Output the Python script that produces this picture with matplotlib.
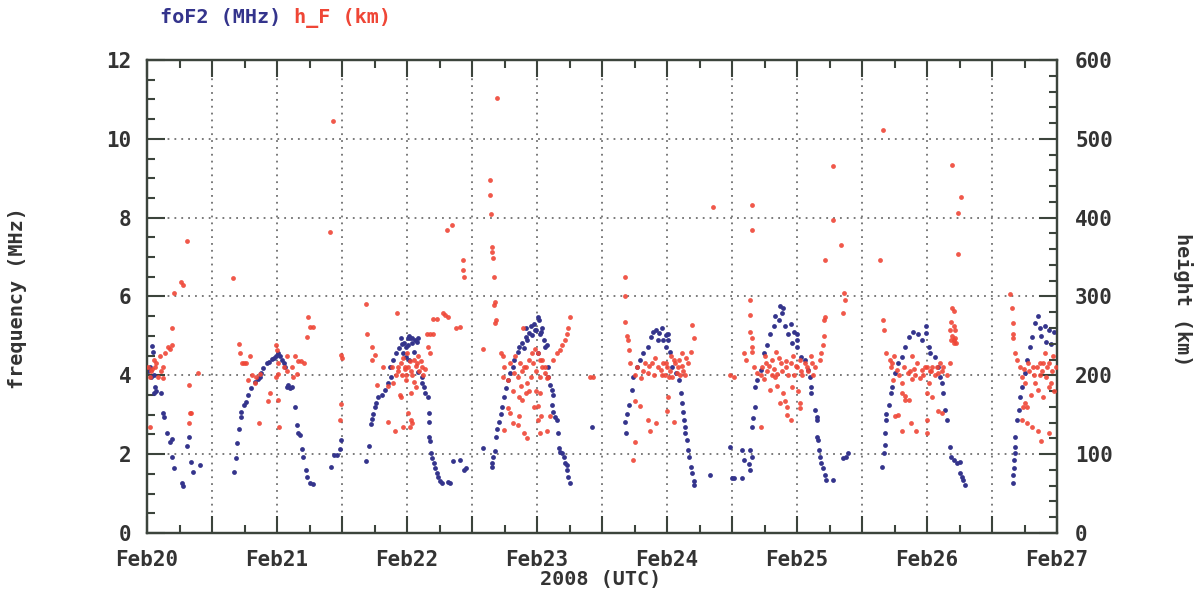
import numpy as np
import matplotlib
matplotlib.use("Agg")
import matplotlib.pyplot as plt
from matplotlib.ticker import MultipleLocator, FuncFormatter

# hours since 2008-02-20 00:00 UTC, foF2 in MHz
fof2_obs = [
    (0.2, 4.10), (0.5, 4.20), (0.8, 3.95), (1.0, 4.75), (1.1, 4.60), (1.3, 4.00), (1.3, 3.54), (1.5, 3.71),
    (1.7, 3.60), (2.5, 3.54), (3.0, 3.05), (3.2, 2.95), (3.6, 2.53), (4.25, 2.30), (4.55, 2.38), (4.7, 1.92),
    (4.9, 1.64), (6.4, 1.28), (6.7, 1.18), (7.3, 2.21), (7.8, 2.44), (8.1, 1.81), (8.4, 1.56), (9.8, 1.72),
    (16.1, 1.56), (16.5, 1.90), (16.6, 2.29), (17.0, 2.63), (17.3, 2.95), (17.4, 3.07), (17.9, 3.25),
    (18.3, 3.33), (18.7, 3.50), (19.2, 3.67), (19.9, 3.84), (20.4, 3.90), (20.9, 3.97), (21.0, 4.05),
    (21.5, 4.18), (22.1, 4.30), (22.5, 4.35), (23.0, 4.42), (23.5, 4.45), (23.9, 4.50),
    # Feb21
    (24.2, 4.56), (24.5, 4.50), (24.9, 4.38), (25.2, 4.30), (25.5, 4.20), (25.8, 3.70), (26.1, 3.75),
    (26.4, 3.67), (26.7, 3.70), (27.3, 3.20), (27.6, 2.74), (27.9, 2.53), (28.2, 2.49), (28.6, 2.12),
    (28.8, 1.93), (29.3, 1.60), (29.6, 1.43), (30.0, 1.26), (30.7, 1.25), (34.0, 1.68), (34.6, 1.98),
    (35.0, 1.98), (35.6, 2.12), (35.9, 2.36),
    (40.5, 1.83), (40.9, 2.21), (41.4, 2.77), (41.5, 2.88), (41.8, 3.03), (42.1, 3.19), (42.2, 3.31),
    (42.7, 3.46), (43.3, 3.50), (43.9, 3.63), (44.5, 3.80), (44.8, 4.22), (45.1, 3.97), (45.4, 4.39),
    (46.0, 4.56), (46.6, 4.69), (46.9, 4.94), (47.0, 4.80), (47.2, 4.56), (47.5, 4.81), (47.8, 4.47),
    (48.1, 4.77),
    # Feb22
    (48.2, 4.94), (48.4, 5.00), (48.6, 4.94), (49.0, 4.94), (49.5, 4.89), (49.8, 4.85), (50.1, 4.94),
    (47.9, 4.73), (48.9, 4.81), (49.2, 4.60), (48.3, 4.39), (50.1, 4.09), (50.7, 3.97), (50.7, 3.80),
    (51.1, 3.71), (51.3, 3.54), (51.8, 3.46), (52.0, 3.05), (52.0, 2.82), (52.1, 2.44), (52.2, 2.34),
    (52.4, 2.02), (52.6, 1.90), (52.9, 1.77), (53.2, 1.65), (53.5, 1.52), (53.8, 1.43), (54.1, 1.31),
    (54.4, 1.27), (55.6, 1.30), (55.9, 1.27), (56.5, 1.83), (57.7, 1.85), (58.6, 1.60), (58.9, 1.64),
    (62.1, 2.15), (63.6, 1.68), (63.7, 1.77), (63.9, 1.92), (64.2, 2.09), (64.5, 2.43), (64.7, 2.64),
    (64.9, 2.82), (65.3, 3.03), (65.6, 3.20), (65.9, 3.46), (66.3, 3.67), (66.6, 3.88), (67.1, 4.05),
    (67.5, 4.22), (67.8, 4.39), (68.4, 4.60), (68.7, 4.73), (69.3, 4.81), (69.6, 4.70), (69.9, 4.98),
    (70.0, 5.20), (70.2, 4.90), (70.5, 5.07), (70.8, 5.25), (71.1, 5.03), (71.4, 5.30), (71.7, 5.15),
    # Feb23
    (72.2, 5.49), (72.3, 5.40), (71.9, 5.15), (72.5, 5.06), (72.8, 5.10), (73.0, 5.20), (73.2, 4.89),
    (73.5, 4.73), (73.8, 4.77), (72.2, 4.56), (74.1, 4.22), (74.1, 3.97), (74.4, 3.75), (74.7, 3.63),
    (75.0, 3.50), (74.7, 3.25), (75.0, 3.08), (75.3, 2.95), (75.6, 2.86), (75.8, 2.53), (76.1, 2.15),
    (76.3, 2.06), (76.6, 2.02), (76.9, 1.92), (77.2, 1.77), (77.5, 1.72), (77.5, 1.60), (77.8, 1.43),
    (78.1, 1.26), (82.1, 2.68),
    (88.3, 2.82), (88.4, 2.53), (88.6, 3.03), (88.9, 3.25), (89.5, 3.63), (89.8, 3.97), (90.4, 4.22),
    (91.0, 4.39), (91.6, 4.56), (92.5, 4.73), (93.1, 4.98), (93.5, 5.10), (94.0, 5.15), (94.3, 4.90),
    (94.6, 5.07), (95.0, 5.20), (95.3, 4.89), (95.9, 5.02),
    # Feb24
    (96.2, 5.06), (96.2, 4.89), (95.9, 4.73), (96.5, 4.60), (97.0, 4.22), (97.6, 4.05), (98.2, 3.88),
    (98.5, 3.54), (98.8, 3.29), (99.0, 3.08), (99.1, 2.86), (99.4, 2.70), (99.4, 2.53), (99.7, 2.36),
    (99.9, 2.11), (100.1, 1.94), (100.4, 1.68), (100.7, 1.52), (101.0, 1.31), (101.0, 1.22), (104.0, 1.47),
    (107.7, 2.19), (108.0, 1.39), (108.3, 1.39), (109.9, 2.11), (110.2, 1.86), (109.9, 1.39), (111.1, 1.76),
    (111.4, 1.60), (111.4, 2.11), (111.7, 1.94),
    (111.7, 2.70), (111.9, 2.91), (112.2, 3.20), (112.3, 3.71), (112.7, 3.88), (113.3, 4.14), (113.9, 4.56),
    (114.5, 4.77), (115.1, 5.06), (115.7, 5.24), (116.0, 5.50), (116.6, 5.41), (116.9, 5.75), (117.2, 5.58),
    (117.5, 5.70), (117.8, 5.24), (118.4, 5.06), (118.8, 5.30), (119.0, 4.81), (119.5, 5.10),
    # Feb25
    (120.0, 5.06), (120.0, 4.89), (120.0, 4.73), (120.8, 4.47), (121.4, 4.39), (122.0, 4.14), (122.4, 3.97),
    (122.6, 3.71), (122.6, 3.54), (123.3, 3.12), (123.6, 2.95), (123.6, 2.86), (123.6, 2.44), (123.9, 2.36),
    (124.0, 2.11), (124.2, 1.94), (124.5, 1.77), (124.8, 1.65), (125.1, 1.48), (125.4, 1.35), (126.7, 1.35),
    (128.5, 1.90), (129.0, 1.94), (129.5, 2.02),
    (135.7, 1.67), (136.1, 2.02), (136.2, 2.24), (136.2, 2.53), (136.5, 2.86), (136.5, 3.03), (136.9, 3.25),
    (137.3, 3.54), (137.6, 3.71), (138.1, 4.05), (138.7, 4.31), (139.3, 4.47), (139.9, 4.73), (140.6, 4.98),
    (141.5, 5.11), (142.4, 5.06), (143.0, 4.89),
    # Feb26
    (143.9, 5.24), (143.9, 5.07), (144.3, 4.73), (144.5, 4.56), (145.5, 4.47), (146.1, 4.22), (146.4, 3.97),
    (146.7, 3.80), (147.0, 3.54), (147.3, 3.12), (147.6, 2.86), (148.2, 2.19), (148.5, 1.94), (149.0, 1.85),
    (149.5, 1.77), (150.1, 1.81), (150.1, 1.52), (150.4, 1.43), (150.7, 1.35), (151.0, 1.22),
    (159.8, 1.26), (159.9, 1.47), (160.1, 1.64), (160.1, 1.85), (160.2, 2.02), (160.2, 2.19), (160.3, 2.44),
    (160.6, 2.86), (160.9, 3.12), (161.2, 3.46), (161.5, 3.71), (162.1, 4.05), (162.4, 4.39), (163.0, 4.73),
    (163.3, 4.98), (163.9, 5.33), (164.5, 5.50), (164.8, 5.20), (165.7, 5.25), (166.6, 5.15), (167.5, 5.10),
    (165.0, 5.00), (165.9, 4.85), (166.8, 4.80),
]

# hours since 2008-02-20 00:00 UTC, h_F in km
hf_obs = [
    (0.2, 211), (0.5, 198), (0.55, 135), (0.8, 205), (1.0, 208), (1.2, 220), (1.4, 211), (1.7, 215),
    (2.0, 198), (2.4, 224), (2.6, 205), (3.0, 196), (3.0, 211), (3.3, 228), (3.9, 236), (4.25, 234),
    (4.55, 238), (4.7, 260), (4.95, 304), (6.3, 319), (6.6, 315), (7.3, 370), (7.8, 188), (7.8, 139),
    (7.9, 152), (8.2, 152), (9.5, 203),
    (15.9, 324), (16.9, 240), (17.2, 228), (17.5, 216), (17.9, 216), (18.3, 216), (18.7, 194), (19.0, 224),
    (19.3, 201), (19.9, 190), (20.2, 198), (20.6, 140), (20.9, 202), (22.4, 167), (22.7, 177), (23.9, 198),
    (23.9, 238),
    # Feb21
    (24.0, 232), (24.1, 216), (24.2, 169), (24.3, 134), (24.2, 202), (25.2, 211), (25.8, 205), (25.9, 224),
    (26.7, 211), (27.0, 198), (27.4, 224), (27.6, 202), (27.9, 218), (28.4, 218), (28.9, 216), (29.5, 249),
    (29.8, 274), (30.1, 261), (30.7, 261), (33.8, 382), (34.4, 522), (35.6, 143), (35.9, 164), (35.9, 226),
    (36.0, 222),
    (40.4, 291), (40.6, 253), (41.5, 236), (41.5, 219), (42.0, 226), (42.4, 188), (43.5, 211), (44.5, 186),
    (44.5, 141), (45.2, 211), (45.4, 190), (45.7, 129), (46.2, 279), (46.0, 200), (46.3, 205), (46.4, 211),
    (46.7, 175), (46.8, 215), (46.9, 172), (47.2, 134), (47.0, 200), (47.3, 222), (47.6, 211), (47.7, 208),
    (47.8, 200),
    # Feb22
    (48.0, 228), (48.2, 210), (48.5, 218), (48.8, 205), (49.0, 200), (49.3, 220), (49.3, 192), (49.6, 212),
    (49.9, 215), (50.0, 225), (50.3, 205), (50.5, 218), (50.8, 211), (51.0, 200), (51.3, 208), (47.9, 194),
    (48.8, 177), (49.6, 185), (48.2, 152), (48.8, 143), (49.0, 139), (48.5, 135), (51.6, 253), (52.2, 253),
    (52.8, 253), (51.9, 236), (52.2, 228), (52.8, 272), (53.5, 272), (54.6, 279), (55.0, 277), (55.5, 274),
    (55.4, 384), (56.3, 391), (57.0, 260), (57.8, 261), (58.3, 346), (58.4, 333), (58.6, 325),
    (62.1, 234), (63.4, 448), (63.4, 429), (63.5, 404), (63.7, 363), (63.7, 357), (63.9, 349), (64.0, 325),
    (64.2, 293), (64.1, 289), (64.3, 266), (64.5, 270), (64.6, 552), (65.3, 228), (65.8, 224), (65.9, 211),
    (65.7, 198), (66.6, 194), (66.6, 158), (67.0, 215), (67.1, 152), (67.5, 139), (67.6, 180), (65.9, 131),
    (67.8, 203), (68.0, 225), (68.4, 198), (68.4, 137), (68.7, 173), (68.7, 148), (68.9, 215), (69.0, 186),
    (69.2, 205), (69.3, 169), (69.5, 260), (69.6, 211), (69.6, 127), (69.9, 177), (70.0, 210), (70.2, 190),
    (70.2, 120), (70.5, 219), (70.6, 180), (70.8, 198), (71.1, 228), (71.3, 215), (71.4, 160), (71.7, 234),
    (71.8, 205),
    # Feb23
    (72.2, 228), (72.6, 220), (72.9, 220), (73.0, 211), (73.4, 203), (73.5, 210), (72.5, 198), (73.8, 196),
    (74.1, 198), (71.9, 180), (72.5, 177), (72.2, 161), (72.8, 148), (72.2, 143), (72.5, 127), (73.8, 129),
    (74.4, 148), (75.0, 220), (75.6, 228), (76.3, 232), (76.6, 238), (77.2, 245), (77.5, 252), (77.8, 260),
    (78.1, 274), (81.7, 198), (82.3, 198),
    (88.3, 325), (88.3, 300), (88.3, 268), (88.6, 250), (88.8, 245), (88.9, 232), (89.2, 216), (89.8, 93),
    (90.0, 116), (90.0, 167), (90.0, 200), (90.5, 210), (91.0, 161), (91.2, 196), (91.5, 205), (92.0, 215),
    (92.4, 203), (92.5, 143), (92.6, 212), (92.8, 129), (93.2, 215), (93.6, 200), (93.8, 222), (94.0, 139),
    (94.4, 210), (94.8, 207), (95.0, 200), (95.2, 215), (95.6, 200), (95.8, 215),
    # Feb24
    (96.0, 211), (96.5, 205), (96.8, 225), (97.2, 141), (97.3, 220), (97.5, 215), (98.0, 210), (98.2, 220),
    (98.4, 200), (98.8, 228), (98.8, 212), (99.3, 200), (99.5, 222), (99.8, 215), (96.2, 173), (96.0, 155),
    (96.4, 198), (97.0, 198), (97.8, 203), (99.0, 205), (100.4, 230), (100.7, 264), (101.0, 247),
    (104.4, 414), (107.7, 201), (108.3, 198),
    (110.2, 228), (110.5, 220), (111.6, 416), (111.6, 384), (111.4, 296), (111.4, 277), (111.4, 255),
    (111.7, 247), (111.6, 236), (111.6, 230), (112.0, 211), (112.7, 203), (113.3, 134), (113.3, 200),
    (113.6, 210), (113.9, 195), (114.0, 225), (114.2, 215), (114.5, 205), (114.8, 212), (115.1, 182),
    (115.3, 200), (115.4, 220), (115.8, 208), (116.0, 198), (116.2, 230), (116.3, 186), (116.3, 202),
    (116.6, 222), (116.9, 165), (117.0, 215), (117.2, 205), (117.5, 178), (117.8, 168), (117.9, 218),
    (118.0, 210), (118.1, 160), (118.2, 150), (118.4, 200), (118.8, 143), (118.8, 215), (119.0, 185),
    (119.2, 225), (119.5, 200), (119.8, 212),
    # Feb25
    (120.0, 210), (120.5, 220), (120.8, 205), (121.0, 200), (121.5, 215), (121.8, 210), (122.0, 205),
    (122.5, 225), (122.8, 215), (123.0, 200), (123.3, 210), (120.5, 165), (120.2, 180), (120.6, 158),
    (124.2, 220), (124.5, 228), (124.8, 238), (125.0, 250), (125.2, 346), (125.0, 270), (125.1, 274),
    (126.7, 465), (126.7, 397), (128.2, 365), (128.5, 279), (128.7, 304), (128.8, 296),
    (135.4, 346), (135.9, 511), (135.9, 270), (136.1, 257), (136.5, 228), (137.1, 220), (137.3, 211),
    (137.6, 215), (137.9, 225), (138.4, 207), (137.8, 194), (138.1, 148), (138.7, 150), (138.8, 200),
    (139.3, 190), (139.3, 177), (139.3, 129), (139.8, 210), (139.9, 169), (140.0, 174), (140.5, 203),
    (140.6, 169), (140.8, 205), (141.2, 224), (141.2, 195), (141.1, 139), (141.6, 208), (141.7, 200),
    (141.9, 129), (142.2, 215), (142.7, 196), (143.0, 207), (143.2, 200), (143.6, 211),
    # Feb26
    (144.0, 211), (144.3, 190), (144.6, 205), (144.8, 206), (145.0, 211), (145.5, 200), (145.8, 210),
    (146.1, 203), (146.4, 215), (146.7, 205), (147.0, 210), (147.6, 200), (148.2, 215), (144.0, 178),
    (145.0, 172), (146.1, 155), (146.7, 152), (144.0, 143), (144.0, 127), (148.5, 268), (148.3, 258),
    (149.0, 262), (149.2, 258), (148.7, 250), (149.0, 245), (148.4, 245), (149.2, 247), (149.0, 241),
    (149.3, 241), (148.7, 285), (149.0, 281), (148.6, 467), (150.3, 426), (149.7, 406), (149.7, 354),
    (159.4, 303), (159.6, 286), (159.9, 266), (159.9, 253), (159.9, 247), (160.2, 228), (160.6, 220),
    (161.2, 211), (161.5, 198), (161.9, 208), (162.0, 190), (162.6, 215), (162.8, 205), (163.5, 210),
    (163.8, 200), (164.0, 190), (164.3, 210), (164.9, 200), (165.2, 205), (165.5, 215), (166.0, 198),
    (166.2, 210), (166.8, 190), (167.0, 205), (167.3, 225), (167.8, 210), (166.6, 215), (165.8, 228),
    (164.8, 215), (163.2, 175), (164.5, 182), (165.5, 172), (166.5, 185), (167.5, 180), (162.1, 165),
    (161.8, 160), (162.5, 160), (161.5, 143), (162.5, 140), (163.3, 135), (164.5, 129), (165.0, 117),
    (166.6, 127),
]

day_labels = ["Feb20", "Feb21", "Feb22", "Feb23", "Feb24", "Feb25", "Feb26", "Feb27"]

BLUE = "#34348c"
RED = "#ef4636"
INK = "#333333"
FRAME = "#3c443c"
FONT = "DejaVu Sans Mono"

plt.rcParams["font.family"] = FONT
plt.rcParams["font.weight"] = "bold"

fig = plt.figure(figsize=(12.02, 5.98), dpi=100)
ax = fig.add_axes([0.1223, 0.1087, 0.7571, 0.791])
ax2 = ax.twinx()

ft, fv = np.array(fof2_obs).T
ht, hv = np.array(hf_obs).T
ax.scatter(ft / 24.0, fv, s=12, color=BLUE, linewidths=0, zorder=3)
ax2.scatter(ht / 24.0, hv, s=12, color=RED, linewidths=0, alpha=0.9, zorder=3)

ax.set_xlim(0, 7)
ax.set_ylim(0, 12)
ax2.set_ylim(0, 600)

ax.xaxis.set_major_locator(MultipleLocator(0.5))
ax.xaxis.set_minor_locator(MultipleLocator(0.25))
ax.xaxis.set_major_formatter(FuncFormatter(
    lambda v, p: day_labels[int(round(v))] if abs(v - round(v)) < 1e-6 and 0 <= round(v) < len(day_labels) else ""))
ax.yaxis.set_major_locator(MultipleLocator(2))
ax.yaxis.set_minor_locator(MultipleLocator(0.5))
ax2.yaxis.set_major_locator(MultipleLocator(100))
ax2.yaxis.set_minor_locator(MultipleLocator(20))

ax.tick_params(axis="x", which="both", direction="in", top=True, bottom=True, colors=FRAME,
               labelcolor=INK, labelsize=15, pad=12, width=1.5)
ax.tick_params(axis="x", which="major", length=12)
ax.tick_params(axis="x", which="minor", length=6)
ax.tick_params(axis="y", which="both", direction="in", left=True, right=False, colors=FRAME,
               labelcolor=INK, labelsize=15, pad=11, width=1.5)
ax.tick_params(axis="y", which="major", length=13)
ax.tick_params(axis="y", which="minor", length=6)
ax2.tick_params(axis="y", which="both", direction="in", right=True, left=False, colors=FRAME,
                labelcolor=INK, labelsize=15, pad=13, width=1.5)
ax2.tick_params(axis="y", which="major", length=13)
ax2.tick_params(axis="y", which="minor", length=6)

ax.grid(which="major", color="#707070", linestyle=(0, (1, 2.8)), linewidth=1.3)
ax.set_axisbelow(True)
for a in (ax, ax2):
    for sp in a.spines.values():
        sp.set_color(FRAME)
        sp.set_linewidth(1.6)

fig.text(160 / 1202, 1 - 18 / 598, "foF2 (MHz)", color=BLUE, fontsize=14.5, va="center", ha="left")
fig.text(294 / 1202, 1 - 18 / 598, "h_F (km)", color=RED, fontsize=14.5, va="center", ha="left")
fig.text(18 / 1202, 1 - 298 / 598, "frequency (MHz)", color=INK, fontsize=14.5, rotation=90,
         va="center", ha="center")
fig.text(1183 / 1202, 1 - 300 / 598, "height (km)", color=INK, fontsize=14.5, rotation=270,
         va="center", ha="center")
fig.text(601 / 1202, 1 - 580 / 598, "2008 (UTC)", color=INK, fontsize=14.5, va="center", ha="center")

fig.savefig("out.png", dpi=100, facecolor="white")
